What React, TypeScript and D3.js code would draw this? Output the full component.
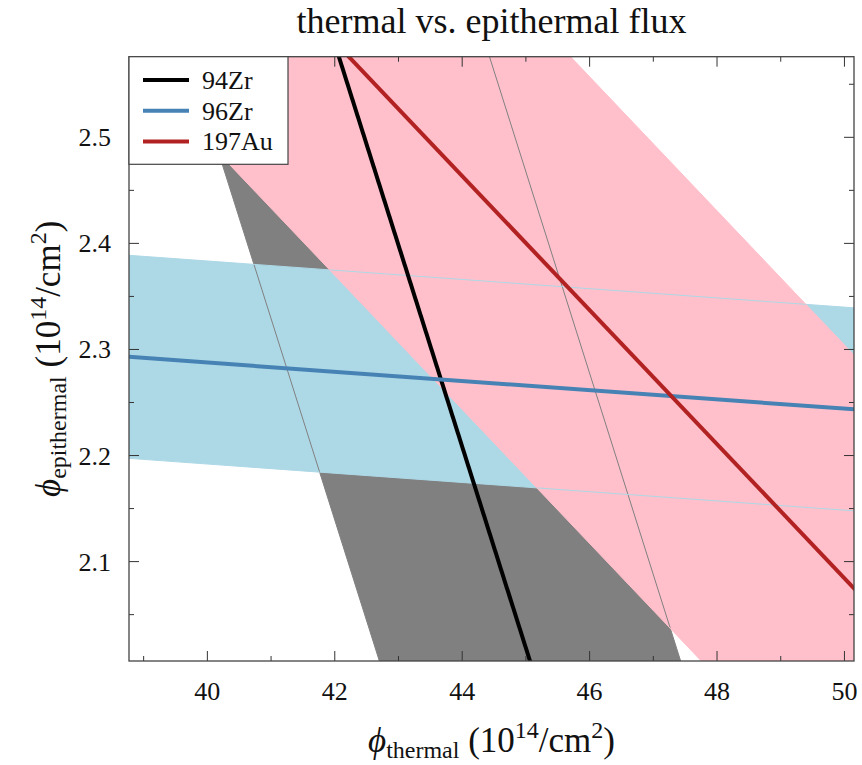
import React, { useEffect, useRef } from 'react';
import * as d3 from 'd3';

// one straight constraint per isotope: phi_epi = intercept + slope * phi_th (+/- halfWidth)
const isotopes = ['94Zr', '96Zr', '197Au'];
const lineColors = ['#000000', '#4682b4', '#b22222'];
const bandColors = ['#808080', '#add8e6', '#ffc0cb'];
const slopes = [-0.1899, -0.00435, -0.0632];
const intercepts = [10.564, 2.4617, 5.2443];
const halfWidths = [0.449, 0.0957, 0.22];

const xTicks = [40, 42, 44, 46, 48, 50];
const xMinorTicks = [39, 41, 43, 45, 47, 49];
const yTicks = [2.1, 2.2, 2.3, 2.4, 2.5];
const yMinorTicks = [2.05, 2.15, 2.25, 2.35, 2.45, 2.55];
const xDomain = [38.77, 50.15];
const yDomain = [2.0063, 2.576];

const FONT = '"Liberation Serif", "DejaVu Serif", serif';

function FluxChart() {
    const ref = useRef<SVGSVGElement>(null);

    useEffect(() => {
        const svg = d3.select(ref.current);
        svg.selectAll('*').remove();

        const left = 129, right = 854, top = 56.7, bottom = 661;
        const x = d3.scaleLinear().domain(xDomain).range([left, right]);
        const y = d3.scaleLinear().domain(yDomain).range([bottom, top]);

        svg.append('clipPath').attr('id', 'plot-clip')
            .append('rect')
            .attr('x', left).attr('y', top)
            .attr('width', right - left).attr('height', bottom - top);

        const plot = svg.append('g').attr('clip-path', 'url(#plot-clip)');
        const span = [xDomain[0] - 1, xDomain[1] + 1];

        // bands first, in drawing order
        isotopes.forEach((_, i) => {
            const area = d3.area<number>()
                .x(d => x(d))
                .y0(d => y(intercepts[i] + slopes[i] * d - halfWidths[i]))
                .y1(d => y(intercepts[i] + slopes[i] * d + halfWidths[i]));
            plot.append('path').attr('d', area(span)).attr('fill', bandColors[i]);
        });

        // thin band edges
        isotopes.forEach((_, i) => {
            [-1, 1].forEach(s => {
                const edge = d3.line<number>()
                    .x(d => x(d))
                    .y(d => y(intercepts[i] + slopes[i] * d + s * halfWidths[i]));
                plot.append('path').attr('d', edge(span))
                    .attr('fill', 'none').attr('stroke', bandColors[i]).attr('stroke-width', 1);
            });
        });

        // central lines
        isotopes.forEach((_, i) => {
            const line = d3.line<number>()
                .x(d => x(d))
                .y(d => y(intercepts[i] + slopes[i] * d));
            plot.append('path').attr('d', line(span))
                .attr('fill', 'none').attr('stroke', lineColors[i]).attr('stroke-width', 4);
        });

        // ticks on all four sides, pointing in
        const ticks = svg.append('g').attr('stroke', '#333').attr('stroke-width', 1);
        const addX = (vals: number[], len: number) => vals.forEach(v => {
            ticks.append('line').attr('x1', x(v)).attr('x2', x(v)).attr('y1', bottom).attr('y2', bottom - len);
            ticks.append('line').attr('x1', x(v)).attr('x2', x(v)).attr('y1', top).attr('y2', top + len);
        });
        const addY = (vals: number[], len: number) => vals.forEach(v => {
            ticks.append('line').attr('y1', y(v)).attr('y2', y(v)).attr('x1', left).attr('x2', left + len);
            ticks.append('line').attr('y1', y(v)).attr('y2', y(v)).attr('x1', right).attr('x2', right - len);
        });
        addX(xTicks, 10);
        addX(xMinorTicks, 5);
        addY(yTicks, 10);
        addY(yMinorTicks, 5);

        svg.append('rect')
            .attr('x', left).attr('y', top)
            .attr('width', right - left).attr('height', bottom - top)
            .attr('fill', 'none').attr('stroke', '#444').attr('stroke-width', 1.3);

        const labels = svg.append('g').attr('fill', '#111');
        labels.selectAll('.xl').data(xTicks).enter().append('text')
            .attr('x', d => x(d)).attr('y', 700)
            .attr('font-family', FONT)
            .attr('text-anchor', 'middle').attr('font-size', 26)
            .text(d => d3.format('d')(d));
        labels.selectAll('.yl').data(yTicks).enter().append('text')
            .attr('x', 111).attr('y', d => y(d) + 9)
            .attr('font-family', FONT)
            .attr('text-anchor', 'end').attr('font-size', 26)
            .text(d => d3.format('.1f')(d));

        // title
        labels.append('text')
            .attr('x', (left + right) / 2).attr('y', 33)
            .attr('font-family', FONT)
            .attr('text-anchor', 'middle').attr('font-size', 36)
            .text('thermal vs. epithermal flux');

        // axis titles with sub/superscripts
        const mathLabel = (g: any, sub: string) => {
            const t = g.append('text').attr('text-anchor', 'middle').attr('font-size', 35)
                .attr('font-family', FONT)
                .style('white-space', 'pre');
            t.append('tspan').attr('font-style', 'italic').text('ϕ');
            t.append('tspan').attr('font-size', 24).attr('dy', 6).text(sub);
            t.append('tspan').attr('dy', -6).text(' (10');
            t.append('tspan').attr('font-size', 24).attr('dy', -14).text('14');
            t.append('tspan').attr('dy', 14).text('/cm');
            t.append('tspan').attr('font-size', 24).attr('dy', -14).text('2');
            t.append('tspan').attr('dy', 14).text(')');
        };
        mathLabel(labels.append('g').attr('transform', `translate(${(left + right) / 2},752)`), 'thermal');
        mathLabel(labels.append('g').attr('transform', `translate(60,${(top + bottom) / 2}) rotate(-90)`), 'epithermal');

        // legend in the top-left corner
        const legend = svg.append('g');
        legend.append('rect')
            .attr('x', left).attr('y', top).attr('width', 159).attr('height', 107.6)
            .attr('fill', 'white').attr('stroke', '#444').attr('stroke-width', 1.2);
        isotopes.forEach((name, i) => {
            const ly = 80 + i * 30.7;
            legend.append('line')
                .attr('x1', 143).attr('x2', 189).attr('y1', ly).attr('y2', ly)
                .attr('stroke', lineColors[i]).attr('stroke-width', 4);
            legend.append('text')
                .attr('x', 202).attr('y', ly + 9)
                .attr('font-family', FONT).attr('font-size', 26).attr('fill', '#111')
                .text(name);
        });
    }, []);

    return (
        <svg ref={ref} width={862} height={765}
            style={{ position: 'absolute', left: 0, top: 0, background: 'white' }}></svg>
    );
}

export default function App() {
    return <FluxChart />;
}
